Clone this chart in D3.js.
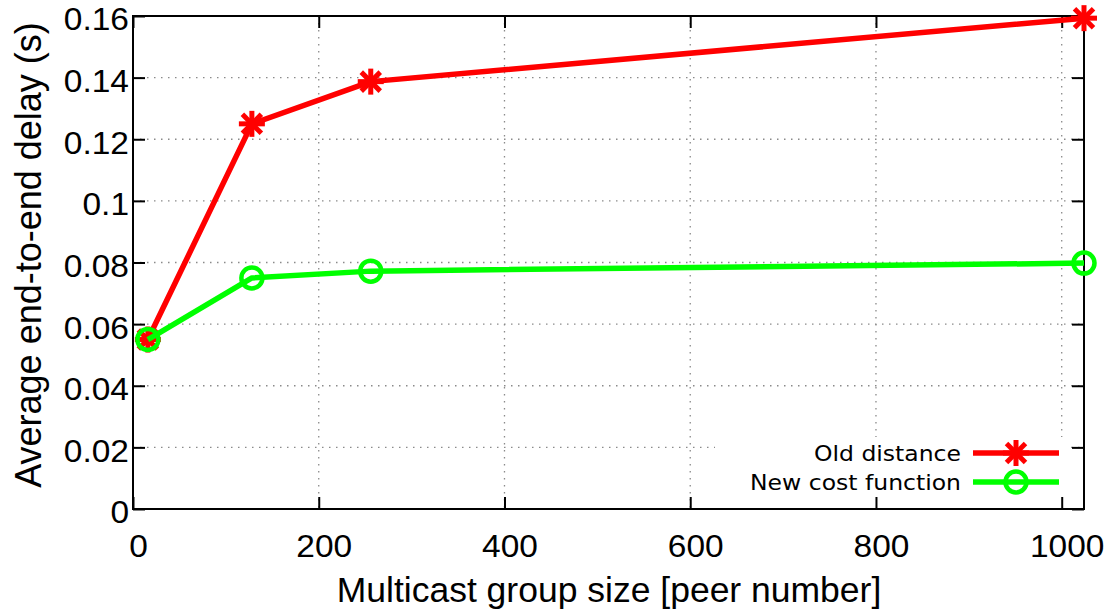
<!DOCTYPE html>
<html>
<head>
<meta charset="utf-8">
<script src="https://cdn.jsdelivr.net/npm/d3@7"></script>
<style>
  html, body { margin: 0; padding: 0; background: #fff; }
  svg { display: block; }
</style>
</head>
<body>
<svg id="chart" width="1113" height="610"></svg>
<script>
// ---- data ----
const groupSizes = [16, 128, 256, 1024];
const oldDistance = [0.055, 0.125, 0.1387, 0.1593];
const newCostFunction = [0.055, 0.075, 0.0772, 0.0798];
const seriesNames = ["Old distance", "New cost function"];
const xTickValues = [0, 200, 400, 600, 800, 1000];
const yTickValues = [0, 0.02, 0.04, 0.06, 0.08, 0.1, 0.12, 0.14, 0.16];
const yTickLabels = ["0", "0.02", "0.04", "0.06", "0.08", "0.1", "0.12", "0.14", "0.16"];
const xTitle = "Multicast group size [peer number]";
const yTitle = "Average end-to-end delay (s)";

// ---- layout ----
const svg = d3.select("#chart");
const L = 133, R = 1084, T = 16, B = 509;
const x = d3.scaleLinear().domain([0, 1024]).range([L, R]);
const y = d3.scaleLinear().domain([0, 0.16]).range([B, T]);

const tickFont = "'Liberation Sans', Arial, sans-serif";

// grid
const grid = svg.append("g");
grid.selectAll("line.gx").data(xTickValues.filter(d => d > 0)).join("line")
  .attr("x1", d => x(d)).attr("x2", d => x(d)).attr("y1", T).attr("y2", B)
  .attr("stroke", "#8a8a8a").attr("stroke-width", 1.3).attr("stroke-dasharray", "1.5,5.5");
grid.selectAll("line.gy").data(yTickValues.filter(d => d > 0 && d < 0.16)).join("line")
  .attr("x1", L).attr("x2", R).attr("y1", d => y(d)).attr("y2", d => y(d))
  .attr("stroke", "#8a8a8a").attr("stroke-width", 1.3).attr("stroke-dasharray", "1.5,5.5");

// legend background (blanks grid)
svg.append("rect").attr("x", 715).attr("y", 437).attr("width", 353).attr("height", 71).attr("fill", "#fff");

// axes using d3 axis generators, inward ticks
const tickLen = 12;
const axB = svg.append("g").attr("transform", `translate(0,${B})`)
  .call(d3.axisBottom(x).tickValues(xTickValues).tickSizeInner(-tickLen).tickSizeOuter(0).tickFormat(d3.format("d")));
const axT = svg.append("g").attr("transform", `translate(0,${T})`)
  .call(d3.axisTop(x).tickValues(xTickValues).tickSizeInner(-tickLen).tickSizeOuter(0).tickFormat(""));
const axL = svg.append("g").attr("transform", `translate(${L},0)`)
  .call(d3.axisLeft(y).tickValues(yTickValues).tickSizeInner(-tickLen).tickSizeOuter(0)
    .tickFormat((d, i) => yTickLabels[i]));
const axR = svg.append("g").attr("transform", `translate(${R},0)`)
  .call(d3.axisRight(y).tickValues(yTickValues).tickSizeInner(-tickLen).tickSizeOuter(0).tickFormat(""));

[axB, axT, axL, axR].forEach(a => {
  a.select(".domain").remove();
  a.selectAll(".tick line").attr("stroke", "#000").attr("stroke-width", 2);
});
axB.selectAll(".tick text")
  .attr("font-family", tickFont).attr("font-size", 31).attr("fill", "#000")
  .attr("y", 0).attr("dy", 0).attr("x", 0)
  .attr("transform", "translate(5,48) scale(1.08,1)");
axL.selectAll(".tick text")
  .attr("font-family", tickFont).attr("font-size", 31).attr("fill", "#000")
  .attr("x", 0).attr("dy", "0.45em")
  .attr("transform", "translate(-4,0) scale(1.08,1)");

// frame
svg.append("rect").attr("x", L).attr("y", T).attr("width", R - L).attr("height", B - T)
  .attr("fill", "none").attr("stroke", "#000").attr("stroke-width", 2);

// titles
svg.append("text").attr("x", 609).attr("y", 602).attr("text-anchor", "middle")
  .attr("font-family", tickFont).attr("font-size", 35.5).attr("fill", "#000").text(xTitle);
svg.append("text").attr("transform", "translate(41,255) rotate(-90)").attr("text-anchor", "middle")
  .attr("font-family", tickFont).attr("font-size", 36).attr("fill", "#000").text(yTitle);

// series
const colors = ["#ff0000", "#00ff00"];
const line = d3.line().x(d => x(d[0])).y(d => y(d[1]));
const series = [oldDistance, newCostFunction].map(vals => groupSizes.map((g, i) => [g, vals[i]]));

function star(g, cx, cy, color) {
  const s = 13, d = 9.5;
  const segs = [[0, -s, 0, s], [-s, 0, s, 0], [-d, -d, d, d], [-d, d, d, -d]];
  segs.forEach(p => g.append("line")
    .attr("x1", cx + p[0]).attr("y1", cy + p[1]).attr("x2", cx + p[2]).attr("y2", cy + p[3])
    .attr("stroke", color).attr("stroke-width", 5));
}
function circ(g, cx, cy, color) {
  g.append("circle").attr("cx", cx).attr("cy", cy).attr("r", 10.5)
    .attr("fill", "none").attr("stroke", color).attr("stroke-width", 4.5);
}
const markers = [star, circ];

series.forEach((pts, si) => {
  const g = svg.append("g");
  g.append("path").datum(pts).attr("d", line).attr("fill", "none")
    .attr("stroke", colors[si]).attr("stroke-width", 5.5).attr("stroke-linejoin", "round");
  pts.forEach(p => markers[si](g, x(p[0]), y(p[1]), colors[si]));
});

// legend
const legY = [453, 482];
seriesNames.forEach((name, i) => {
  const g = svg.append("g");
  g.append("text").attr("transform", `translate(961,${legY[i] + 8}) scale(1.12,1)`)
    .attr("text-anchor", "end")
    .attr("font-family", "'DejaVu Sans', sans-serif").attr("font-size", 21).attr("fill", "#000")
    .text(name);
  g.append("line").attr("x1", 973).attr("x2", 1059).attr("y1", legY[i]).attr("y2", legY[i])
    .attr("stroke", colors[i]).attr("stroke-width", 5.5);
  markers[i](g, 1016, legY[i], colors[i]);
});
</script>
</body>
</html>
